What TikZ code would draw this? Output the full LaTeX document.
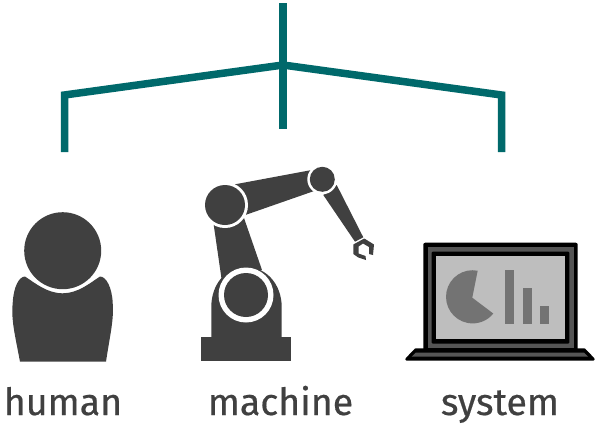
\documentclass[tikz,border=0pt]{standalone}
\usepackage{fontspec}
\setmainfont[RawFeature={embolden=0.5}]{Fira Sans}
\definecolor{tealline}{HTML}{00696B}
\definecolor{icondark}{HTML}{404040}
\definecolor{screengrey}{HTML}{BEBEBE}
\definecolor{chartgrey}{HTML}{737373}
\definecolor{framegrey}{HTML}{555555}
\tikzset{
  branch/.style={draw=tealline,line width=7.5pt,miter limit=10},
  dark/.style={fill=icondark,draw=none},
  gap/.style={fill=white,draw=none},
  caption/.style={text=icondark,font=\fontsize{37.5}{40}\selectfont,anchor=base,inner sep=0pt}
}
\begin{document}
\begin{tikzpicture}[x=1pt,y=-1pt]
\useasboundingbox (0,0) rectangle (595,424);
% connectors
\coordinate (top) at (283,3);
\coordinate (hub) at (283,65);
\coordinate (midend) at (283,129);
\coordinate (leftend) at (64.5,152);
\coordinate (rightend) at (501.5,152);
\draw[branch] (top) -- (midend);
\draw[branch] (leftend) -- (64.5,95) -- (hub) -- (501.5,95) -- (rightend);
% human
\path[dark] (20,361.7) .. controls (15,335) and (11,320) .. (12.7,303)
  .. controls (13.5,287) and (19,276.5) .. (25,276.5)
  .. controls (35,283) and (47,293.3) .. (62.7,293.3)
  .. controls (78,293.3) and (90,283) .. (100,276.5)
  .. controls (106,276.5) and (112,287) .. (112.7,303)
  .. controls (114,320) and (110,335) .. (106,361.7) -- cycle;
\node[dark,circle,minimum size=77pt,inner sep=0pt] (head) at (62.7,250.7) {};
% machine
\path[dark] (201,336.7) rectangle (291,360.7);
\path[dark] (211.3,337) -- (211.3,307) .. controls (211.3,285) and (225,267) .. (246,267)
  .. controls (267,267) and (281.7,285) .. (281.7,307) -- (281.7,337) -- cycle;
\path[dark] (213.3,222) -- (243.3,216) -- (262,270) -- (221.7,280) -- cycle;
\path[dark] (235,184.3) -- (311.7,170) -- (315,190.7) -- (243.3,215.7) -- cycle;
\path[dark] (323.3,195) -- (336.7,185) -- (363.3,237.3) -- (355,241.7) -- cycle;
\node[gap,circle,minimum size=55pt,inner sep=0pt] (basegap) at (246,295) {};
\node[dark,circle,minimum size=44pt,inner sep=0pt] (basejoint) at (246,295) {};
\node[gap,circle,minimum size=46pt,inner sep=0pt] (shouldergap) at (225,205) {};
\node[dark,circle,minimum size=40pt,inner sep=0pt] (shoulder) at (225,205) {};
\node[gap,circle,minimum size=30pt,inner sep=0pt] (elbowgap) at (322.3,179.3) {};
\node[dark,circle,minimum size=25pt,inner sep=0pt] (elbow) at (322.3,179.3) {};
\path[dark] (353.3,244.5) -- (364.3,238.5) -- (374,244.5) -- (373,255) -- (369,254) -- (369,247)
  -- (363,243.5) -- (358.5,246.5) -- (358.5,253.5) -- (365.5,256) -- (366,260) -- (358.3,257.5) -- (353.3,254) -- cycle;
% system
\path[fill=black,rounded corners=2pt] (423.3,242.7) rectangle (577.7,352);
\path[fill=framegrey] (427.5,247) rectangle (573.5,348);
\path[fill=black,rounded corners=1pt] (431.7,251.7) rectangle (569.3,343.5);
\path[fill=screengrey] (435.7,255.7) rectangle (565,339.3);
\path[fill=chartgrey] (477.7,270.7) arc[start angle=-79,end angle=-321,radius=26.6] -- (472.3,297.7) -- cycle;
\path[fill=chartgrey] (505,270) rectangle (514,323.5);
\path[fill=chartgrey] (523.3,288.3) rectangle (532,323.5);
\path[fill=chartgrey] (540,306) rectangle (549,323.5);
\path[fill=black,draw=black,line width=3pt,line join=round] (406.8,359.2) -- (415.8,349.8) -- (584.2,349.8) -- (593.2,359.2) -- cycle;
\path[fill=framegrey] (411.7,356.7) -- (415.7,352.7) -- (584,352.7) -- (588,356.7) -- cycle;
% labels
\node[caption] (human) at (63,415) {human};
\node[caption] (machine) at (280.5,415) {machine};
\node[caption] (system) at (500,415) {system};
\end{tikzpicture}
\end{document}
